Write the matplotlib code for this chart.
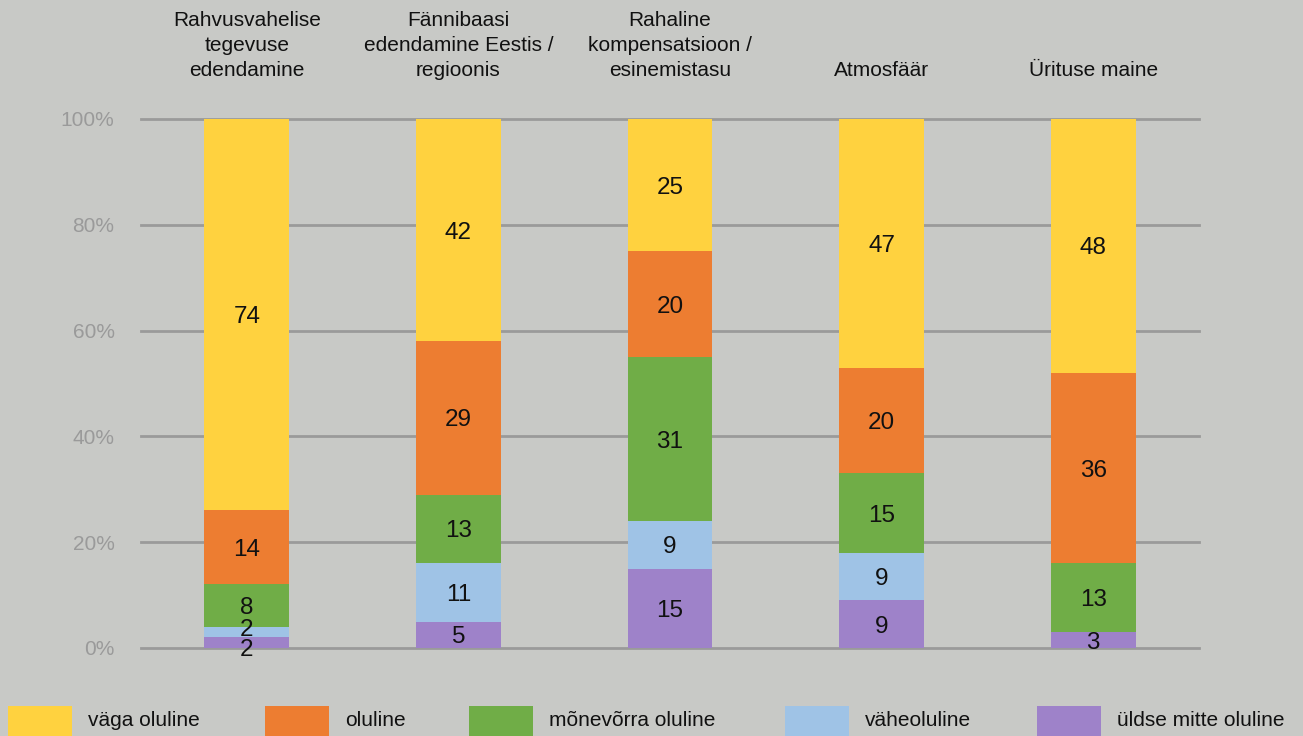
import matplotlib.pyplot as plt
from matplotlib.patches import Rectangle
import numpy as np

plt.rcParams['font.family'] = ['Liberation Sans', 'DejaVu Sans']

categories = ['Rahvusvahelise\ntegevuse\nedendamine',
              'Fännibaasi\nedendamine Eestis /\nregioonis',
              'Rahaline\nkompensatsioon /\nesinemistasu',
              'Atmosfäär',
              'Ürituse maine']
series_names = ['üldse mitte oluline', 'väheoluline', 'mõnevõrra oluline', 'oluline', 'väga oluline']
uldse_mitte = [2, 5, 15, 9, 3]
vaheoluline = [2, 11, 9, 9, 0]
monevorra = [8, 13, 31, 15, 13]
oluline = [14, 29, 20, 20, 36]
vaga_oluline = [74, 42, 25, 47, 48]
yticks = [0, 20, 40, 60, 80, 100]

series = [uldse_mitte, vaheoluline, monevorra, oluline, vaga_oluline]
colors = ['#9e82c9', '#9fc3e6', '#70ad47', '#ed7d31', '#ffd23f']
bg = '#c8c9c6'

fig = plt.figure(figsize=(13.03, 7.36), dpi=100, facecolor=bg)
ax = fig.add_axes([0.1082, 0.1196, 0.812, 0.7188], facecolor=bg)

x = np.arange(len(categories))
bottom = np.zeros(len(categories))
for vals, col in zip(series, colors):
    vals = np.array(vals, dtype=float)
    ax.bar(x, vals, 0.4, bottom=bottom, color=col, zorder=3)
    for xi, b, v in zip(x, bottom, vals):
        if v <= 0:
            continue
        y = b + v / 2
        # tiny segments: spread the labels so they don't sit on top of each other
        if v < 3:
            y = b if b == 0 else b + v * 0.9
        ax.text(xi, y, f'{int(v)}', ha='center', va='center_baseline',
                fontsize=17.5, color='#111111', zorder=4)
    bottom += vals

ax.set_xlim(-0.5, len(categories) - 0.5)
ax.set_ylim(0, 100)
ax.set_yticks(yticks)
ax.set_yticklabels([f'{t}%' for t in yticks], fontsize=15, color='#9a9a9a')
ax.tick_params(axis='y', length=0, pad=19)
ax.set_xticks([])
ax.yaxis.grid(True, color='#9a9a9a', linewidth=2, zorder=0)
for gl in ax.yaxis.get_gridlines():
    gl.set_clip_on(False)
for s in ax.spines.values():
    s.set_visible(False)

# category titles above the bars
for xi, cat in zip(x, categories):
    ax.text(xi, 107.4, cat, ha='center', va='bottom', fontsize=15,
            color='#111111', linespacing=1.38, clip_on=False)

# legend along the bottom edge
legend_order = ['väga oluline', 'oluline', 'mõnevõrra oluline', 'väheoluline', 'üldse mitte oluline']
legend_colors = ['#ffd23f', '#ed7d31', '#70ad47', '#9fc3e6', '#9e82c9']
legend_x = [8, 265, 469, 785, 1037]
W, H = 1303, 736
for lx, name, col in zip(legend_x, legend_order, legend_colors):
    fig.add_artist(Rectangle((lx / W, 0), 64 / W, 30 / H, transform=fig.transFigure,
                             color=col, lw=0))
    fig.text((lx + 80) / W, 15 / H, name, ha='left', va='center', fontsize=15,
             color='#111111')

fig.savefig('out.png', dpi=100, facecolor=bg)
